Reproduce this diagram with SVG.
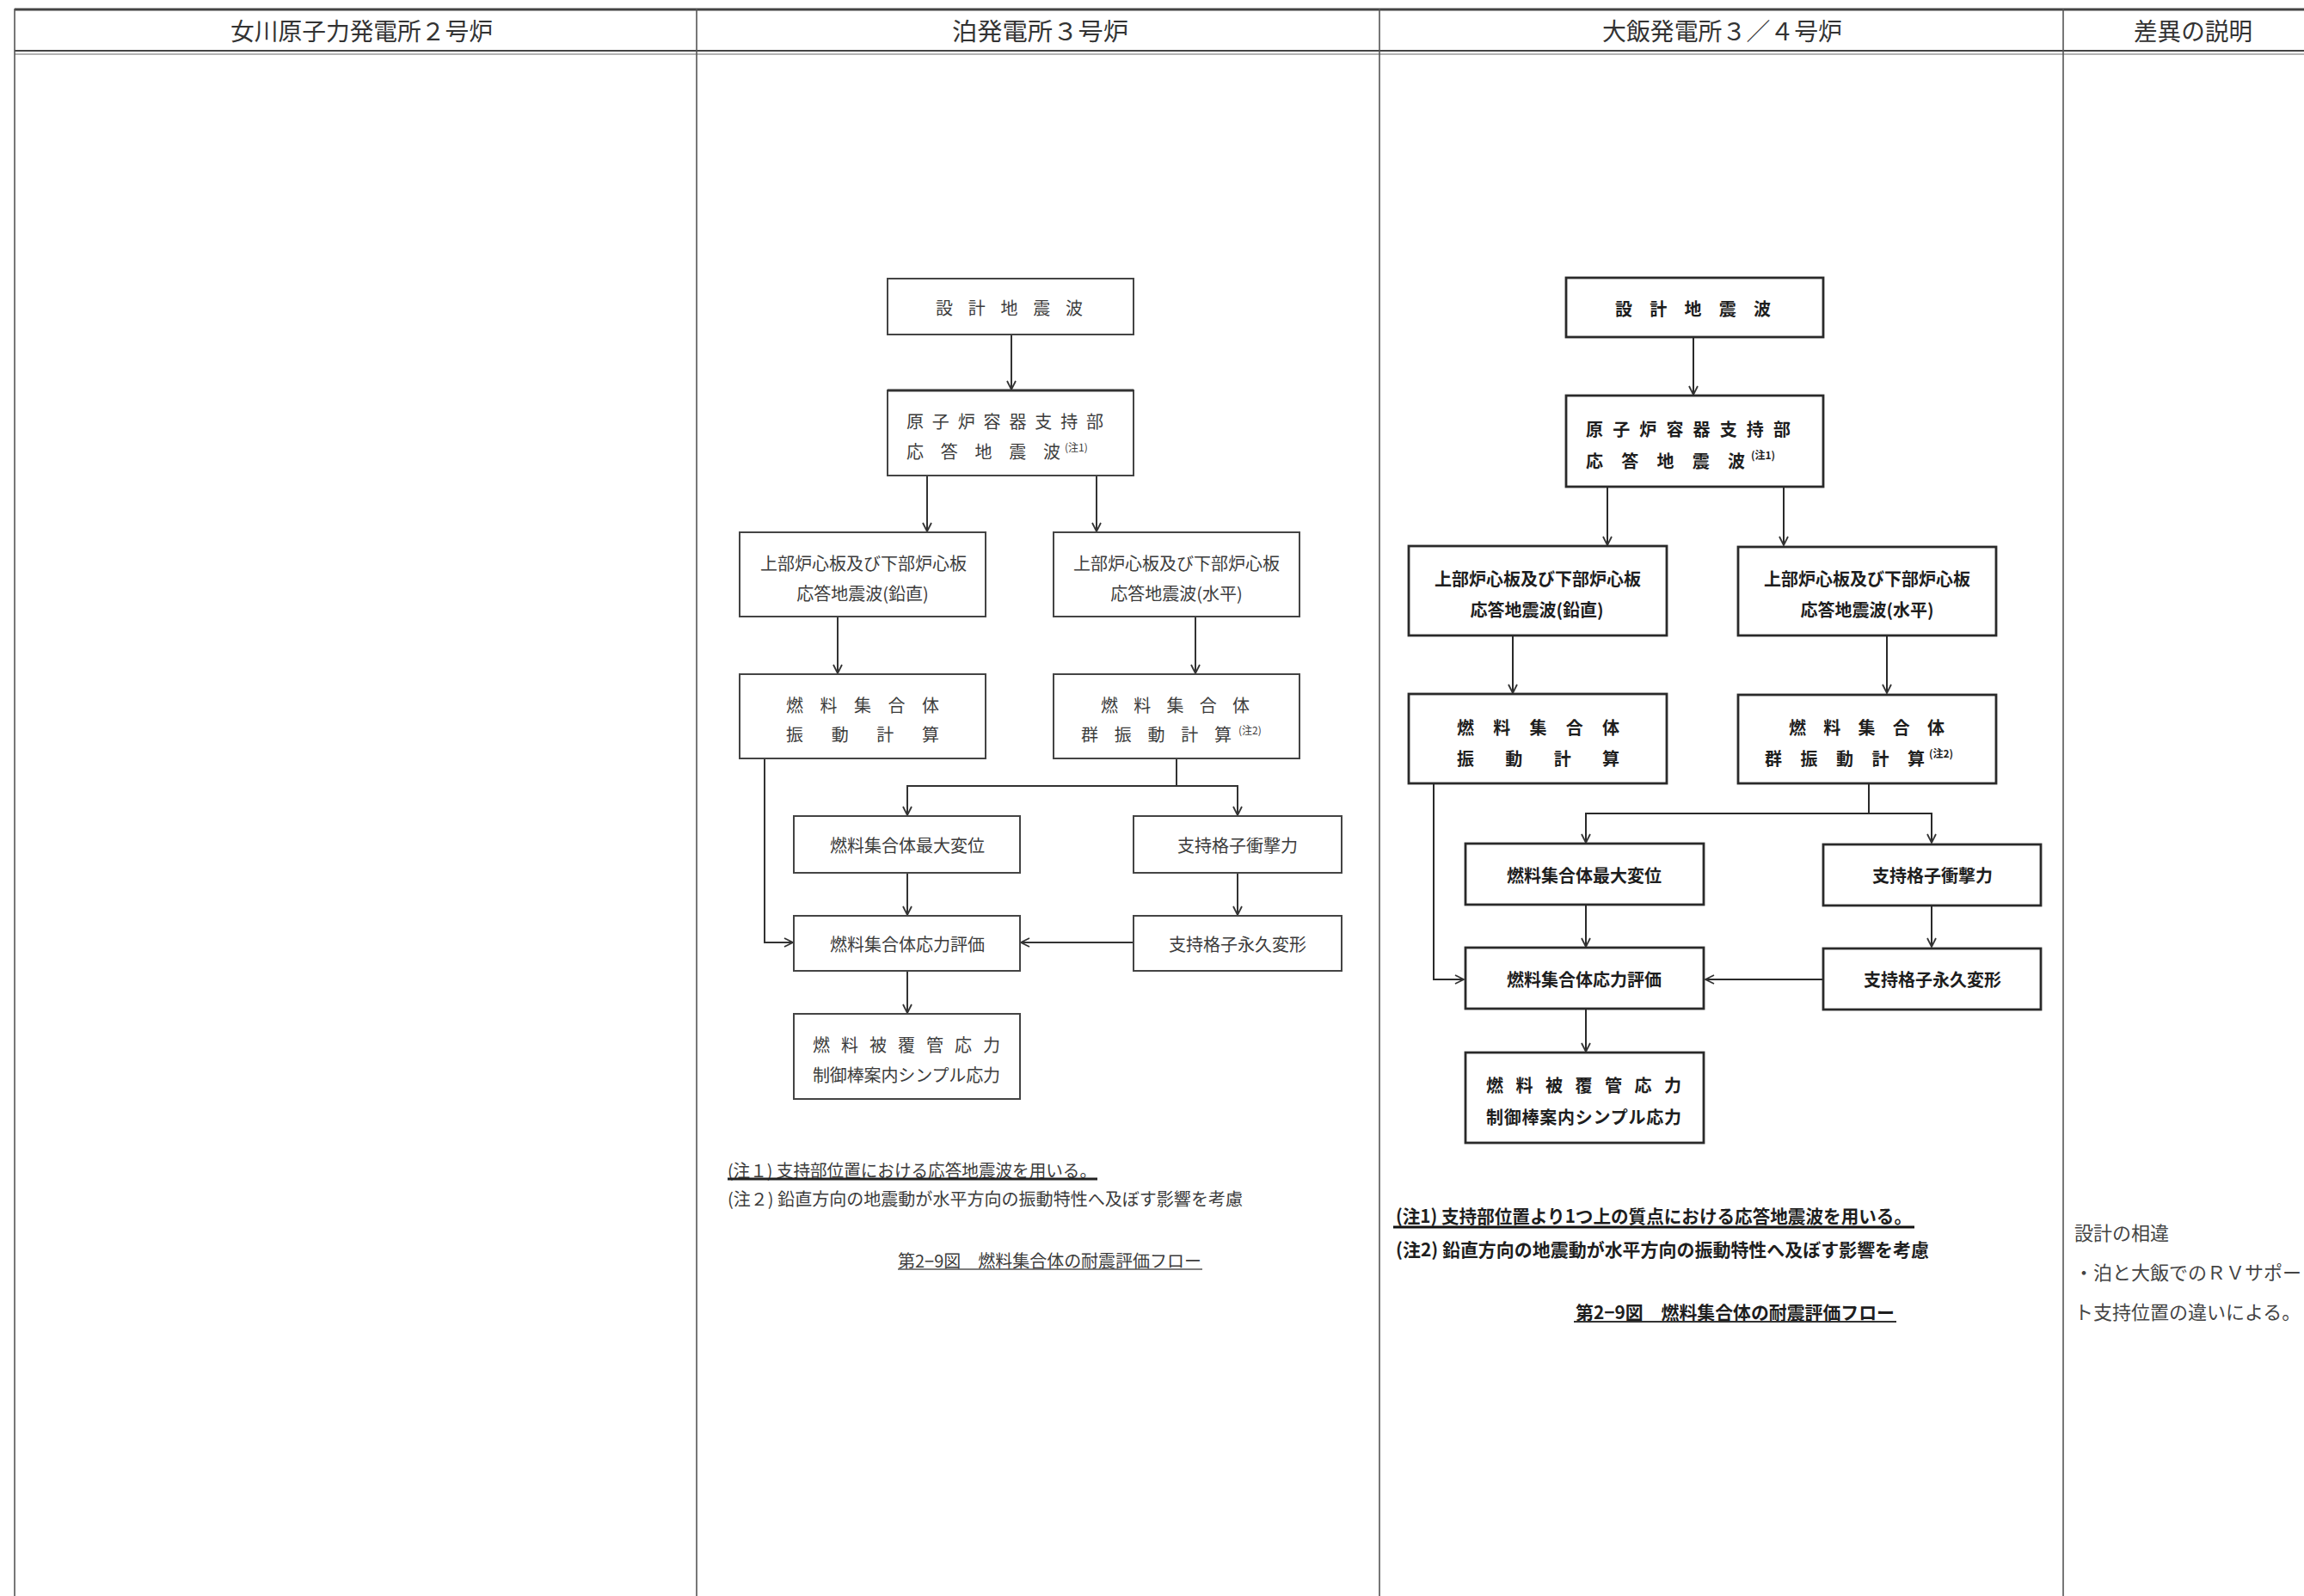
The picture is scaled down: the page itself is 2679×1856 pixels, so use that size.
<svg xmlns="http://www.w3.org/2000/svg" width="2679" height="1856" viewBox="0 0 2679 1856">
<style>
text{font-family:"Noto Sans CJK JP","Noto Sans CJK SC",sans-serif;dominant-baseline:central}
.hd{font-size:28px;fill:#333}
.tm{font-size:20px;fill:#3c3c3c}
.tmn{font-size:20px;fill:#3c3c3c}
.oh{font-size:20px;fill:#1e1e1e;font-weight:bold}
.ohn{font-size:21px;fill:#1e1e1e;font-weight:bold}
.sup{font-size:12px}
.mid{text-anchor:middle}
.grid{stroke:#555;stroke-width:1.6;fill:none}
.bt{fill:#fff;stroke:#444;stroke-width:2}
.bo{fill:#fff;stroke:#2a2a2a;stroke-width:2.8}
.ct{stroke:#333;stroke-width:2;fill:none}
.co{stroke:#2a2a2a;stroke-width:2;fill:none}
.df{font-size:22px;fill:#444}
</style>
<defs>
<marker id="ah" viewBox="0 0 12 12" refX="11" refY="6" markerWidth="12" markerHeight="12" markerUnits="userSpaceOnUse" orient="auto">
<path d="M1,1 L11,6 L1,11" fill="none" stroke="#333" stroke-width="1.8"/>
</marker>
</defs>
<rect width="2679" height="1856" fill="#fff"/>

<g id="table">
<line x1="17" y1="11" x2="2679" y2="11" stroke="#444" stroke-width="3"/>
<line x1="17" y1="59" x2="2679" y2="59" stroke="#444" stroke-width="2"/>
<line x1="17" y1="63" x2="2679" y2="63" stroke="#666" stroke-width="1"/>
<line class="grid" x1="17" y1="10" x2="17" y2="1856"/>
<line class="grid" x1="810" y1="10" x2="810" y2="1856"/>
<line class="grid" x1="1604" y1="10" x2="1604" y2="1856"/>
<line class="grid" x1="2399" y1="10" x2="2399" y2="1856"/>
<text class="hd" x="268" y="35" textLength="305" lengthAdjust="spacingAndGlyphs">女川原子力発電所２号炉</text>
<text class="hd" x="1107" y="35" textLength="205" lengthAdjust="spacingAndGlyphs">泊発電所３号炉</text>
<text class="hd" x="1863" y="35" textLength="279" lengthAdjust="spacingAndGlyphs">大飯発電所３／４号炉</text>
<text class="hd" x="2481" y="35" textLength="138" lengthAdjust="spacingAndGlyphs">差異の説明</text>
</g>

<!-- Tomari flow -->
<g id="tomari-connectors">
<line class="ct" x1="1176" y1="389" x2="1176" y2="453" marker-end="url(#ah)"/>
<line class="ct" x1="1078" y1="553" x2="1078" y2="618" marker-end="url(#ah)"/>
<line class="ct" x1="1275" y1="553" x2="1275" y2="618" marker-end="url(#ah)"/>
<line class="ct" x1="974" y1="717" x2="974" y2="783" marker-end="url(#ah)"/>
<line class="ct" x1="1390" y1="717" x2="1390" y2="783" marker-end="url(#ah)"/>
<polyline class="ct" points="889,882 889,1096 922,1096" marker-end="url(#ah)"/>
<line class="ct" x1="1368" y1="882" x2="1368" y2="914"/>
<polyline class="ct" points="1368,914 1055,914 1055,948" marker-end="url(#ah)"/>
<polyline class="ct" points="1368,914 1439,914 1439,948" marker-end="url(#ah)"/>
<line class="ct" x1="1055" y1="1015" x2="1055" y2="1064" marker-end="url(#ah)"/>
<line class="ct" x1="1439" y1="1015" x2="1439" y2="1064" marker-end="url(#ah)"/>
<line class="ct" x1="1318" y1="1096" x2="1187" y2="1096" marker-end="url(#ah)"/>
<line class="ct" x1="1055" y1="1129" x2="1055" y2="1178" marker-end="url(#ah)"/>
</g>

<g id="t-n1"><rect class="bt" x="1032" y="324" width="286" height="65"/>
<text class="tm" x="1088" y="357" textLength="171" lengthAdjust="spacing">設計地震波</text></g>
<g id="t-n2"><rect class="bt" x="1032" y="454" width="286" height="99"/>
<line x1="1032" y1="454" x2="1318" y2="454" stroke="#333" stroke-width="3"/>
<text class="tm" x="1054" y="489" textLength="229" lengthAdjust="spacing">原子炉容器支持部</text>
<text class="tm" x="1054" y="524" textLength="179" lengthAdjust="spacing">応答地震波</text>
<text class="tm sup" x="1238" y="519">(注1)</text></g>
<g id="t-n3"><rect class="bt" x="860" y="619" width="286" height="98"/>
<text class="tm mid" x="1004" y="654">上部炉心板及び下部炉心板</text>
<text class="tm mid" x="1003" y="689">応答地震波(鉛直)</text></g>
<g id="t-n4"><rect class="bt" x="1225" y="619" width="286" height="98"/>
<text class="tm mid" x="1368" y="654">上部炉心板及び下部炉心板</text>
<text class="tm mid" x="1368" y="689">応答地震波(水平)</text></g>
<g id="t-n5"><rect class="bt" x="860" y="784" width="286" height="98"/>
<text class="tm" x="914" y="819" textLength="178" lengthAdjust="spacing">燃料集合体</text>
<text class="tm" x="914" y="853" textLength="178" lengthAdjust="spacing">振動計算</text></g>
<g id="t-n6"><rect class="bt" x="1225" y="784" width="286" height="98"/>
<text class="tm" x="1280" y="819" textLength="173" lengthAdjust="spacing">燃料集合体</text>
<text class="tm" x="1257" y="853" textLength="175" lengthAdjust="spacing">群振動計算</text>
<text class="tm sup" x="1440" y="848">(注2)</text></g>
<g id="t-n7"><rect class="bt" x="923" y="949" width="263" height="66"/>
<text class="tm mid" x="1055" y="982">燃料集合体最大変位</text></g>
<g id="t-n8"><rect class="bt" x="1318" y="949" width="242" height="66"/>
<text class="tm mid" x="1439" y="982">支持格子衝撃力</text></g>
<g id="t-n9"><rect class="bt" x="923" y="1065" width="263" height="64"/>
<text class="tm mid" x="1055" y="1097">燃料集合体応力評価</text></g>
<g id="t-n10"><rect class="bt" x="1318" y="1065" width="242" height="64"/>
<text class="tm mid" x="1439" y="1097">支持格子永久変形</text></g>
<g id="t-n11"><rect class="bt" x="923" y="1179" width="263" height="99"/>
<text class="tm" x="945" y="1214" textLength="218" lengthAdjust="spacing">燃料被覆管応力</text>
<text class="tm" x="945" y="1249" textLength="218" lengthAdjust="spacing">制御棒案内シンプル応力</text></g>

<g id="t-notes">
<text class="tmn" x="846" y="1360" textLength="429" lengthAdjust="spacingAndGlyphs">(注１) 支持部位置における応答地震波を用いる。</text>
<line x1="846" y1="1371" x2="1276" y2="1371" stroke="#222" stroke-width="3"/>
<text class="tmn" x="846" y="1393" textLength="599" lengthAdjust="spacingAndGlyphs">(注２) 鉛直方向の地震動が水平方向の振動特性へ及ぼす影響を考慮</text>
<text class="tmn" x="1044" y="1465" textLength="353" lengthAdjust="spacingAndGlyphs">第2−9図　燃料集合体の耐震評価フロー</text>
<line x1="1044" y1="1476" x2="1398" y2="1476" stroke="#555" stroke-width="1.5"/>
</g>

<!-- Ohi flow -->
<g id="ohi-connectors">
<line class="co" x1="1969" y1="392" x2="1969" y2="459" marker-end="url(#ah)"/>
<line class="co" x1="1869" y1="566" x2="1869" y2="634" marker-end="url(#ah)"/>
<line class="co" x1="2074" y1="566" x2="2074" y2="634" marker-end="url(#ah)"/>
<line class="co" x1="1759" y1="739" x2="1759" y2="806" marker-end="url(#ah)"/>
<line class="co" x1="2194" y1="739" x2="2194" y2="806" marker-end="url(#ah)"/>
<polyline class="co" points="1667,911 1667,1139 1702,1139" marker-end="url(#ah)"/>
<line class="co" x1="2173" y1="911" x2="2173" y2="946"/>
<polyline class="co" points="2173,946 1844,946 1844,980" marker-end="url(#ah)"/>
<polyline class="co" points="2173,946 2246,946 2246,980" marker-end="url(#ah)"/>
<line class="co" x1="1844" y1="1052" x2="1844" y2="1101" marker-end="url(#ah)"/>
<line class="co" x1="2246" y1="1053" x2="2246" y2="1101" marker-end="url(#ah)"/>
<line class="co" x1="2120" y1="1139" x2="1983" y2="1139" marker-end="url(#ah)"/>
<line class="co" x1="1844" y1="1173" x2="1844" y2="1223" marker-end="url(#ah)"/>
</g>

<g id="o-n1"><rect class="bo" x="1821" y="323" width="299" height="69"/>
<text class="oh" x="1878" y="358" textLength="181" lengthAdjust="spacing">設計地震波</text></g>
<g id="o-n2"><rect class="bo" x="1821" y="460" width="299" height="106"/>
<text class="oh" x="1844" y="498" textLength="238" lengthAdjust="spacing">原子炉容器支持部</text>
<text class="oh" x="1844" y="535" textLength="185" lengthAdjust="spacing">応答地震波</text>
<text class="oh sup" x="2036" y="528">(注1)</text></g>
<g id="o-n3"><rect class="bo" x="1638" y="635" width="300" height="104"/>
<text class="oh mid" x="1788" y="672">上部炉心板及び下部炉心板</text>
<text class="oh mid" x="1787" y="708">応答地震波(鉛直)</text></g>
<g id="o-n4"><rect class="bo" x="2021" y="636" width="300" height="103"/>
<text class="oh mid" x="2171" y="672">上部炉心板及び下部炉心板</text>
<text class="oh mid" x="2171" y="708">応答地震波(水平)</text></g>
<g id="o-n5"><rect class="bo" x="1638" y="807" width="300" height="104"/>
<text class="oh" x="1694" y="845" textLength="189" lengthAdjust="spacing">燃料集合体</text>
<text class="oh" x="1694" y="881" textLength="189" lengthAdjust="spacing">振動計算</text></g>
<g id="o-n6"><rect class="bo" x="2021" y="808" width="300" height="103"/>
<text class="oh" x="2080" y="845" textLength="181" lengthAdjust="spacing">燃料集合体</text>
<text class="oh" x="2052" y="881" textLength="186" lengthAdjust="spacing">群振動計算</text>
<text class="oh sup" x="2243" y="875">(注2)</text></g>
<g id="o-n7"><rect class="bo" x="1704" y="981" width="277" height="71"/>
<text class="oh mid" x="1842" y="1017">燃料集合体最大変位</text></g>
<g id="o-n8"><rect class="bo" x="2120" y="982" width="253" height="71"/>
<text class="oh mid" x="2247" y="1017">支持格子衝撃力</text></g>
<g id="o-n9"><rect class="bo" x="1704" y="1102" width="277" height="71"/>
<text class="oh mid" x="1842" y="1138">燃料集合体応力評価</text></g>
<g id="o-n10"><rect class="bo" x="2120" y="1103" width="253" height="71"/>
<text class="oh mid" x="2247" y="1138">支持格子永久変形</text></g>
<g id="o-n11"><rect class="bo" x="1704" y="1224" width="277" height="105"/>
<text class="oh" x="1728" y="1261" textLength="227" lengthAdjust="spacing">燃料被覆管応力</text>
<text class="oh" x="1728" y="1298" textLength="227" lengthAdjust="spacing">制御棒案内シンプル応力</text></g>

<g id="o-notes">
<text class="ohn" x="1623" y="1413" textLength="600" lengthAdjust="spacingAndGlyphs">(注1) 支持部位置より1つ上の質点における応答地震波を用いる。</text>
<line x1="1620" y1="1427" x2="2226" y2="1427" stroke="#111" stroke-width="3"/>
<text class="ohn" x="1623" y="1452" textLength="620" lengthAdjust="spacingAndGlyphs">(注2) 鉛直方向の地震動が水平方向の振動特性へ及ぼす影響を考慮</text>
<text class="ohn" x="1832" y="1525" textLength="371" lengthAdjust="spacingAndGlyphs">第2−9図　燃料集合体の耐震評価フロー</text>
<line x1="1830" y1="1537" x2="2205" y2="1537" stroke="#333" stroke-width="2"/>
</g>

<g id="diff">
<text class="df" x="2412" y="1432">設計の相違</text>
<text class="df" x="2412" y="1478">・泊と大飯でのＲＶサポー</text>
<text class="df" x="2412" y="1524">ト支持位置の違いによる。</text>
</g>
</svg>
